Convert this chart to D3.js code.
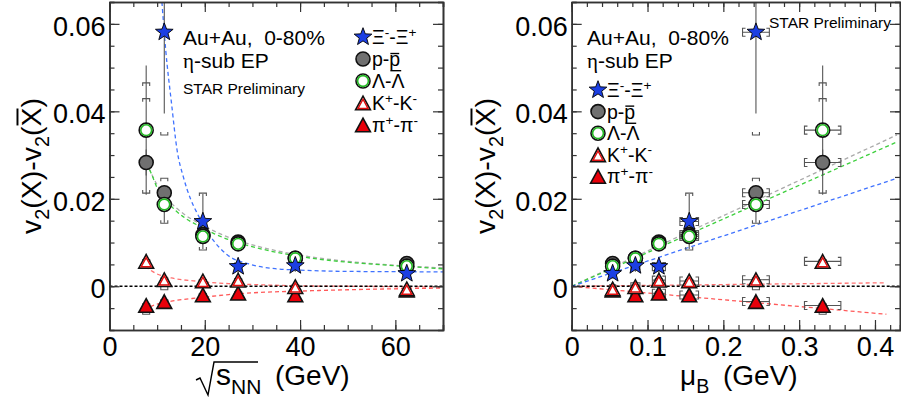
<!DOCTYPE html>
<html>
<head>
<style>
body { margin: 0; background: #fff; }
text { font-family: "Liberation Sans", Arial, sans-serif; fill: #000; }
</style>
</head>
<body>
<script src="https://d3js.org/d3.v7.min.js"></script>
<script>
// beam energies and the matching baryon chemical potentials
var energies = [7.7, 11.5, 19.6, 27, 39, 62.4];
var muB      = [0.331, 0.243, 0.155, 0.115, 0.084, 0.054];
var muBErr   = [0.024, 0.0177, 0.0123, 0.0086, 0.006, 0.004];

// v2(X)-v2(Xbar) per energy, null = no point
var xiVal   = [null, 0.0581, 0.0148, 0.0045, 0.0047, 0.0029];
var xiStat  = [null, 0.0186, 0.0063, 0.0016, 0.0014, 0.0011];
var xiSysUp = [null, 0.0235, 0.0065, 0.0008, 0.0008, 0.0006];
var xiSysDn = [null, 0.0235, 0.0065, 0.0008, 0.0008, 0.0006];

var pVal   = [0.0283, 0.0214, 0.0118, 0.0101, 0.0064, 0.0052];
var pStat  = [0.0030, 0.0010, 0.0006, 0.0004, 0.0003, 0.0003];
var pSysUp = [0.0146, 0.0033, 0.0010, 0.0006, 0.0005, 0.0004];
var pSysDn = [0.0010, 0.0010, 0.0010, 0.0006, 0.0005, 0.0004];

var lamVal   = [0.0357, 0.0187, 0.0114, 0.0097, 0.0064, 0.0046];
var lamStat  = [0.0148, 0.0042, 0.0012, 0.0010, 0.0008, 0.0006];
var lamSysUp = [0.0108, 0.0010, 0.0010, 0.0008, 0.0006, 0.0005];
var lamSysDn = [0.0144, 0.0043, 0.0010, 0.0008, 0.0006, 0.0005];

var kVal   = [0.0057, 0.0015, 0.0012, 0.0014, -0.0001, -0.0006];
var kStat  = [0.0004, 0.0003, 0.0002, 0.0002, 0.0002, 0.0002];
var kSysUp = [0.0004, 0.0004, 0.0003, 0.0003, 0.0002, 0.0002];
var kSysDn = [0.0004, 0.0023, 0.0003, 0.0003, 0.0002, 0.0002];

var piVal   = [-0.0044, -0.0035, -0.0020, -0.0016, -0.0020, -0.0009];
var piStat  = [0.0004, 0.0003, 0.0002, 0.0002, 0.0002, 0.0002];
var piSysUp = [0.0004, 0.0004, 0.0003, 0.0003, 0.0002, 0.0002];
var piSysDn = [0.0020, 0.0004, 0.0003, 0.0003, 0.0002, 0.0002];

// dashed fit curves, [x, y]
var xiFitE  = [[11.0,0.065],[11.8,0.054],[13.0,0.042],[14.2,0.031],[15.5,0.025],[17,0.020],[18.5,0.0165],[21.2,0.0114],[24.7,0.0072],[29.6,0.0050],[35,0.0040],[40,0.0037],[50,0.0034],[70,0.0033]];
var pFitE   = [[7.7,0.0285],[10,0.0232],[12,0.0202],[16,0.0162],[19,0.0143],[22,0.0126],[26,0.0108],[32,0.0089],[40,0.0071],[50,0.0057],[60,0.0048],[70,0.0042]];
var lamFitE = [[7.7,0.0280],[8.6,0.0262],[10,0.0225],[12,0.0195],[14,0.0172],[16,0.0155],[19,0.0137],[22,0.0120],[26,0.0103],[32,0.0085],[40,0.0068],[50,0.0055],[60,0.0047],[70,0.0040]];
var kFitE   = [[7.5,0.0045],[10,0.0028],[13,0.0019],[19,0.0011],[25,0.0006],[30,0.0004],[40,0.0001],[50,0.0],[70,-0.0002]];
var piFitE  = [[7.2,-0.0053],[10,-0.0041],[13,-0.0034],[19,-0.0026],[25,-0.0019],[30,-0.0015],[40,-0.0011],[50,-0.0008],[70,-0.0004]];

var xiFitM  = [[0,0],[0.429,0.0247]];
var pFitM   = [[0,0],[0.429,0.0346]];
var lamFitM = [[0,0],[0.429,0.0330]];
var kFitM   = [[0,0],[0.415,0.0008]];
var piFitM  = [[0,0],[0.415,-0.0064]];

var yTicks = [0, 0.02, 0.04, 0.06];
var eTicks = [0, 20, 40, 60];
var mTicks = [0, 0.1, 0.2, 0.3, 0.4];

var species = [
  {kind: "pi",  val: piVal,  stat: piStat,  up: piSysUp,  dn: piSysDn,  fitE: piFitE,  fitM: piFitM,  col: "#ff5a5a"},
  {kind: "k",   val: kVal,   stat: kStat,   up: kSysUp,   dn: kSysDn,   fitE: kFitE,   fitM: kFitM,   col: "#ff7070"},
  {kind: "p",   val: pVal,   stat: pStat,   up: pSysUp,   dn: pSysDn,   fitE: pFitE,   fitM: pFitM,   col: "#aaaaaa"},
  {kind: "lam", val: lamVal, stat: lamStat, up: lamSysUp, dn: lamSysDn, fitE: lamFitE, fitM: lamFitM, col: "#3ccf3c"},
  {kind: "xi",  val: xiVal,  stat: xiStat,  up: xiSysUp,  dn: xiSysDn,  fitE: xiFitE,  fitM: xiFitM,  col: "#3f72ff"}
];

var svg = d3.select("body").append("svg")
  .attr("width", 901).attr("height", 406);

var yL = d3.scaleLinear().domain([-0.01, 0.065]).range([330, 2]);
var panels = [
  {id: "L", x: d3.scaleLinear().domain([0, 70]).range([109.5, 443]), xs: energies, xerr: null,
   major: eTicks, minor: d3.range(0, 71, 5), fit: "fitE", yLab: 41},
  {id: "R", x: d3.scaleLinear().domain([0, 0.433]).range([571.7, 900]), xs: muB, xerr: muBErr,
   major: mTicks, minor: d3.range(0, 0.433, 0.02), fit: "fitM", yLab: 495}
];

function starPath(cx, cy, R, r) {
  var pts = [];
  for (var i = 0; i < 10; i++) {
    var a = -Math.PI / 2 + i * Math.PI / 5;
    var rr = (i % 2 == 0) ? R : r;
    pts.push([cx + rr * Math.cos(a), cy + rr * Math.sin(a)]);
  }
  return "M" + pts.join("L") + "Z";
}

function triPath(cx, cy, h, w) {
  return "M" + cx + "," + (cy - h) + "L" + (cx + w) + "," + (cy + h) + "L" + (cx - w) + "," + (cy + h) + "Z";
}

function drawMarker(g, kind, cx, cy) {
  if (kind == "xi") {
    g.append("path").attr("d", starPath(cx, cy, 9.3, 3.9))
      .attr("fill", "#1c3fe3").attr("stroke", "#000").attr("stroke-width", 0.9);
  } else if (kind == "p") {
    g.append("circle").attr("cx", cx).attr("cy", cy).attr("r", 7)
      .attr("fill", "#707070").attr("stroke", "#111").attr("stroke-width", 1.6);
  } else if (kind == "lam") {
    g.append("circle").attr("cx", cx).attr("cy", cy).attr("r", 7)
      .attr("fill", "#fff").attr("stroke", "#111").attr("stroke-width", 1.6);
    g.append("circle").attr("cx", cx).attr("cy", cy).attr("r", 5.4)
      .attr("fill", "none").attr("stroke", "#22b822").attr("stroke-width", 1.6);
  } else if (kind == "k") {
    g.append("path").attr("d", triPath(cx, cy, 6.8, 7.4))
      .attr("fill", "#fff").attr("stroke", "#111").attr("stroke-width", 1.6);
    g.append("path").attr("d", triPath(cx, cy + 0.8, 4.6, 5.0))
      .attr("fill", "none").attr("stroke", "#e01010").attr("stroke-width", 1.5);
  } else {
    g.append("path").attr("d", triPath(cx, cy, 6.8, 7.4))
      .attr("fill", "#e8000a").attr("stroke", "#111").attr("stroke-width", 1.6);
  }
}

// rich text helper: parts = [[text, "sup"|"sub"|"bar"|"pbar"|"serif"|""], ...]
function rich(g, x, y, size, parts, anchor) {
  var t = g.append("text").attr("x", x).attr("y", y)
    .style("font-size", size + "px").style("white-space", "pre")
    .attr("text-anchor", anchor || "start");
  var shift = 0, idx = 0, bars = [];
  parts.forEach(function (p) {
    var s = t.append("tspan").text(p[0]);
    var want = 0;
    if (p[1] == "sup") { want = -0.38 * size; s.style("font-size", (size * 0.7) + "px"); }
    if (p[1] == "sub") { want = 0.3 * size; s.style("font-size", (size * 0.7) + "px"); }
    if (p[1] == "bar") bars.push([idx, p[0].length, 0.84, false]);
    if (p[1] == "pbar") bars.push([idx, p[0].length, 0.64, true]);
    if (p[1] == "serif") { s.style("font-family", "'Liberation Serif', serif"); }
    if (want != shift) { s.attr("dy", want - shift); shift = want; }
    idx += p[0].length;
  });
  var node = t.node();
  bars.forEach(function (b) {
    var a = node.getStartPositionOfChar(b[0]);
    var e = node.getEndPositionOfChar(b[0] + b[1] - 1);
    g.append("line").attr("x1", a.x + 1).attr("x2", e.x - 1)
      .attr("y1", a.y - b[2] * size).attr("y2", a.y - b[2] * size)
      .attr("stroke", "#000").attr("stroke-width", size * 0.07);
    if (b[3]) {
      g.append("line").attr("x1", a.x + 1).attr("x2", e.x + 1)
        .attr("y1", a.y + 0.24 * size).attr("y2", a.y + 0.24 * size)
        .attr("stroke", "#000").attr("stroke-width", size * 0.07);
    }
  });
  return t;
}

panels.forEach(function (P) {
  var g = svg.append("g");
  var x = P.x, y = yL;
  var x0 = x.range()[0], x1 = x.range()[1];

  svg.append("clipPath").attr("id", "clip" + P.id).append("rect")
    .attr("x", x0).attr("y", 2).attr("width", x1 - x0).attr("height", 328);
  var plot = g.append("g").attr("clip-path", "url(#clip" + P.id + ")");

  // fits
  species.forEach(function (s) {
    var line = d3.line().x(function (d) { return x(d[0]); }).y(function (d) { return y(d[1]); })
      .curve(d3.curveMonotoneX);
    plot.append("path").attr("d", line(s[P.fit])).attr("fill", "none")
      .attr("stroke", s.col).attr("stroke-width", 1.3).attr("stroke-dasharray", "4,3");
  });

  // zero line
  plot.append("line").attr("x1", x0).attr("x2", x1).attr("y1", y(0)).attr("y2", y(0))
    .attr("stroke", "#000").attr("stroke-width", 1.6).attr("stroke-dasharray", "3,2");

  // error bars first, markers over them
  species.forEach(function (s) {
    s.val.forEach(function (v, i) {
      if (v === null) return;
      var cx = x(P.xs[i]);
      var eg = plot.append("g").attr("stroke", "#555").attr("fill", "none").attr("stroke-width", 1.1);
      eg.append("line").attr("x1", cx).attr("x2", cx)
        .attr("y1", y(v + s.stat[i])).attr("y2", y(v - s.stat[i]));
      var yt = y(v + s.up[i]), yb = y(v - s.dn[i]);
      eg.append("path").attr("d", "M" + (cx - 3.5) + "," + (yt + 3) + "V" + yt + "H" + (cx + 3.5) + "V" + (yt + 3));
      eg.append("path").attr("d", "M" + (cx - 3.5) + "," + (yb - 3) + "V" + yb + "H" + (cx + 3.5) + "V" + (yb - 3));
      if (P.xerr) {
        var xl = x(P.xs[i] - P.xerr[i]), xr = x(P.xs[i] + P.xerr[i]), cy = y(v);
        eg.append("line").attr("x1", xl).attr("x2", xr).attr("y1", cy).attr("y2", cy);
        eg.append("path").attr("d", "M" + (xl + 3) + "," + (cy - 4) + "H" + xl + "V" + (cy + 4) + "H" + (xl + 3));
        eg.append("path").attr("d", "M" + (xr - 3) + "," + (cy - 4) + "H" + xr + "V" + (cy + 4) + "H" + (xr - 3));
      }
    });
  });
  species.forEach(function (s) {
    s.val.forEach(function (v, i) {
      if (v === null) return;
      drawMarker(plot, s.kind, x(P.xs[i]), y(v));
    });
  });

  // axes, ticks pointing inward on all four sides
  var ax = g.append("g").attr("class", "axes");
  ax.append("g").attr("transform", "translate(0,330)")
    .call(d3.axisBottom(x).tickValues(P.minor).tickSize(-5).tickFormat(""));
  ax.append("g").attr("transform", "translate(0,330)")
    .call(d3.axisBottom(x).tickValues(P.major).tickSize(-10).tickSizeOuter(0).tickPadding(7)
      .tickFormat(function (d) { return d3.format("~g")(d); }));
  ax.append("g").attr("transform", "translate(0,2)")
    .call(d3.axisTop(x).tickValues(P.minor).tickSize(-5).tickFormat(""));
  ax.append("g").attr("transform", "translate(0,2)")
    .call(d3.axisTop(x).tickValues(P.major).tickSize(-10).tickSizeOuter(0).tickFormat(""));
  ax.append("g").attr("transform", "translate(" + x0 + ",0)")
    .call(d3.axisLeft(y).tickValues(d3.range(-0.005, 0.0651, 0.005)).tickSize(-5).tickFormat(""));
  ax.append("g").attr("transform", "translate(" + x0 + ",0)")
    .call(d3.axisLeft(y).tickValues(yTicks).tickSize(-10).tickSizeOuter(0).tickPadding(4)
      .tickFormat(function (d) { return d == 0 ? "0" : d3.format(".2f")(d); }));
  ax.append("g").attr("transform", "translate(" + x1 + ",0)")
    .call(d3.axisRight(y).tickValues(d3.range(-0.005, 0.0651, 0.005)).tickSize(-5).tickFormat(""));
  ax.append("g").attr("transform", "translate(" + x1 + ",0)")
    .call(d3.axisRight(y).tickValues(yTicks).tickSize(-10).tickSizeOuter(0).tickFormat(""));
  ax.selectAll("path.domain").attr("stroke", "#333").attr("stroke-width", 1.6);
  ax.selectAll(".tick line").attr("stroke", "#333").attr("stroke-width", 1.2);
  ax.selectAll("text").style("font-size", "27px").style("font-family", "'Liberation Sans', Arial, sans-serif")
    .attr("fill", "#000");
  ax.selectAll(".tick text").filter(function () { return this.getAttribute("dy") == "0.32em"; })
    .attr("dy", "0.43em");

  // y title, squeezed along its length to the reference span
  var yt = g.append("g");
  var tt = rich(yt, 0, 0, 28, [["v", ""], ["2", "sub"], ["(X)-v", ""], ["2", "sub"], ["(", ""], ["X", "bar"], [")", ""]], "middle");
  var len = tt.node().getComputedTextLength();
  yt.attr("transform", "translate(" + P.yLab + ",166) rotate(-90) scale(" + (136 / len) + ",1)");
});

// x titles
var xl = svg.append("g");
xl.append("path").attr("d", "M196,380 L200,378 L208,395 L214,362 H258")
  .attr("fill", "none").attr("stroke", "#000").attr("stroke-width", 1.4);
rich(xl, 216, 385, 30, [["s", ""], ["NN", "sub"]]);
rich(xl, 275, 385, 28, [["(GeV)", ""]]);
rich(xl, 680, 385, 28, [["\u03bc", ""], ["B", "sub"]]);
rich(xl, 723, 385, 28, [["(GeV)", ""]]);

// annotations
var an = svg.append("g");
rich(an, 183, 45, 21, [["Au+Au,  0-80%", ""]]);
rich(an, 183, 68, 21, [["\u03b7", "serif"], ["-sub EP", ""]]);
rich(an, 183, 94, 15.5, [["STAR Preliminary", ""]]);
rich(an, 587, 45, 21, [["Au+Au,  0-80%", ""]]);
rich(an, 587, 68, 21, [["\u03b7", "serif"], ["-sub EP", ""]]);
rich(an, 769, 28, 15.5, [["STAR Preliminary", ""]]);

// legends
var legLabels = [
  ["xi",  [["\u039e", ""], ["-", "sup"], ["-\u039e", ""], ["+", "sup"]]],
  ["p",   [["p-", ""], ["p", "pbar"]]],
  ["lam", [["\u039b-\u039b", ""]]],
  ["k",   [["K", ""], ["+", "sup"], ["-K", ""], ["-", "sup"]]],
  ["pi",  [["\u03c0", ""], ["+", "sup"], ["-\u03c0", ""], ["-", "sup"]]]
];
function legend(mx, tx, y0, dy) {
  var lg = svg.append("g");
  legLabels.forEach(function (l, i) {
    var yy = y0 + i * dy;
    drawMarker(lg, l[0], mx, yy);
    rich(lg, tx, yy + 7, 19.5, l[1]);
  });
}
legend(363, 372, 37, 22);
legend(598, 607, 90, 21.6);
</script>
</body>
</html>
